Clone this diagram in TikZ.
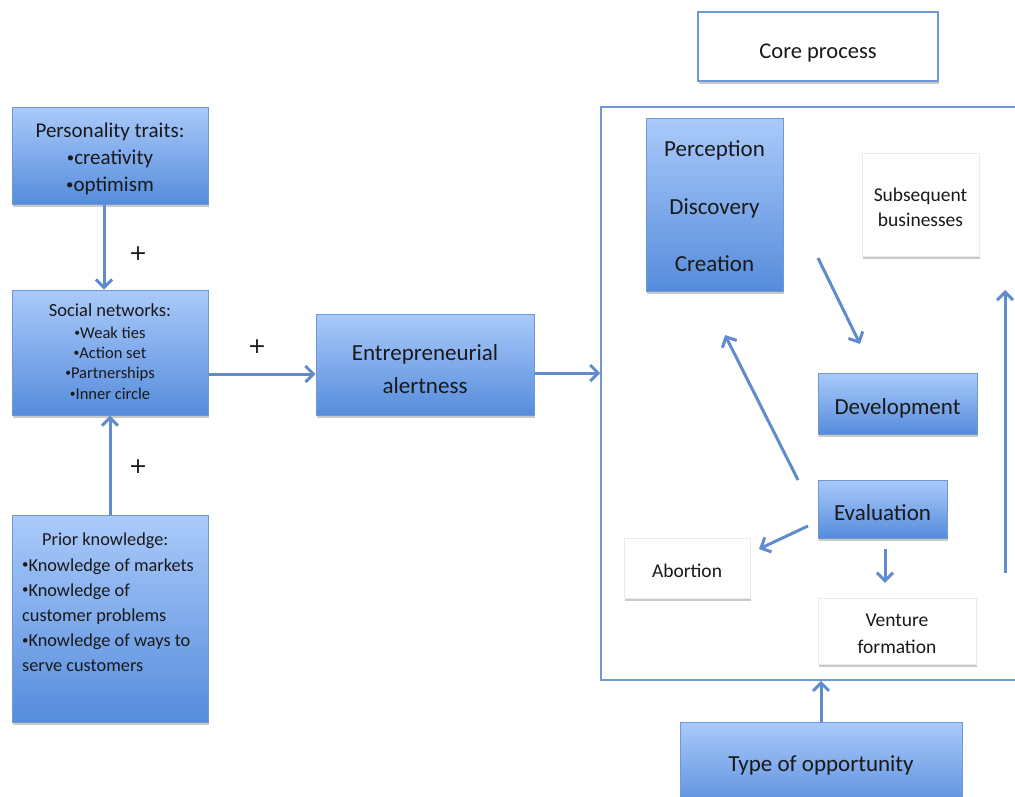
\documentclass[tikz,border=0pt]{standalone}
\usepackage{fontspec}
\usepackage{graphicx}
\setmainfont{Carlito}
\newfontfamily\plusfont{DejaVu Sans}
\usetikzlibrary{arrows.meta,shadows}
\definecolor{gtop}{RGB}{170,202,250}
\definecolor{gbot}{RGB}{86,140,220}
\definecolor{bord}{RGB}{112,152,212}
\definecolor{arr}{RGB}{96,140,206}
\newcommand\bul{\raisebox{0.12em}{\scalebox{0.7}{•}}}
\tikzset{
  x=1pt, y=-1pt,
  shad/.style={drop shadow={shadow xshift=1pt,shadow yshift=-3pt,opacity=0.35,fill=black!60}},
  bluebox/.style={draw=bord, line width=1pt, top color=gtop, bottom color=gbot, shad, inner sep=0pt},
  whitebox/.style={draw=black!8, line width=0.5pt, fill=white, shad, inner sep=0pt},
  txt/.style={inner sep=0pt, align=center, text=black!90},
  conn/.style={draw=arr, line width=3pt, -{Straight Barb[length=8pt,width=16pt]}},
  plus/.style={font=\plusfont\fontsize{22}{24}\selectfont, text=black!90}
}
\begin{document}
\begin{tikzpicture}
\useasboundingbox (0,0) rectangle (1015,796);
\clip (0,0) rectangle (1015,796);
\fill[white] (0,0) rectangle (1015,796);

% core frame
\node[draw=bord, line width=1.5pt, fill=white, minimum width=430pt, minimum height=573pt, inner sep=0pt] (core) at (816,393.5) {};

% left boxes
\node[bluebox, minimum width=196pt, minimum height=97pt] (pt) at (110,155.5) {};
\node[txt, font=\fontsize{21}{27}\selectfont] (ptt) at (110,159)
  {Personality traits:\\ \bul creativity\\ \bul optimism};
\node[bluebox, minimum width=196pt, minimum height=125pt] (sn) at (110,352.5) {};
\node[txt, font=\fontsize{18.5}{22}\selectfont] (snt) at (110,310) {Social networks:};
\node[txt, font=\fontsize{16.5}{20.3}\selectfont] (sni) at (110,363)
  {\bul Weak ties\\ \bul Action set\\ \bul Partnerships\\ \bul Inner circle};
\node[bluebox, minimum width=196pt, minimum height=207pt] (pk) at (110,618.5) {};
\node[anchor=north west, inner sep=0pt, align=left, font=\fontsize{18.3}{25.1}\selectfont, text=black!90] (pkt) at (22,533)
  {\hspace*{20pt}Prior knowledge:\\ \bul Knowledge of markets\\ \bul Knowledge of\\ customer problems\\ \bul Knowledge of ways to\\ serve customers};

\node[bluebox, minimum width=218pt, minimum height=101pt] (ea) at (425,364.5) {};
\node[txt, font=\fontsize{23}{33}\selectfont] (eat) at (425,369) {Entrepreneurial\\ alertness};

\node[draw=bord, line width=1.2pt, fill=white, shad, minimum width=240pt, minimum height=69pt, inner sep=0pt] (cp) at (818,46.5) {};
\node[txt, font=\fontsize{22.5}{25}\selectfont] (cpt) at (818,53) {Core process};

% inner boxes
\node[bluebox, minimum width=137pt, minimum height=173pt] (pdc) at (714.5,204.5) {};
\node[txt, font=\fontsize{23}{57.5}\selectfont] (pdct) at (714.5,206.5) {Perception\\ Discovery\\ Creation};
\node[whitebox, minimum width=117pt, minimum height=103pt] (sb) at (920.5,204.5) {};
\node[txt, font=\fontsize{19.5}{25}\selectfont] (sbt) at (920.5,207) {Subsequent\\ businesses};
\node[bluebox, minimum width=159pt, minimum height=61pt] (dev) at (897.5,403.5) {};
\node[txt, font=\fontsize{23}{26}\selectfont] (devt) at (897.5,408) {Development};
\node[bluebox, minimum width=129pt, minimum height=58pt] (ev) at (882.5,509) {};
\node[txt, font=\fontsize{23}{26}\selectfont] (evt) at (882.5,513) {Evaluation};
\node[whitebox, minimum width=126pt, minimum height=60pt] (ab) at (687,568) {};
\node[txt, font=\fontsize{19.5}{22}\selectfont] (abt) at (687,571) {Abortion};
\node[whitebox, minimum width=158pt, minimum height=66pt] (vf) at (897,631) {};
\node[txt, font=\fontsize{19.5}{27}\selectfont] (vft) at (897,634) {Venture\\ formation};

\node[bluebox, minimum width=282pt, minimum height=90pt] (to) at (821,767) {};
\node[txt, font=\fontsize{23}{27}\selectfont] (tot) at (821,765) {Type of opportunity};

% free arrow ends
\coordinate (a1s) at (818,258); \coordinate (a1e) at (860,344);
\coordinate (a2s) at (798,480); \coordinate (a2e) at (725,335);
\coordinate (a3s) at (808,526); \coordinate (a3e) at (759,549);
\coordinate (a4s) at (1005,573); \coordinate (a4e) at (1005,290);

% connectors
\draw[conn] ([xshift=-6pt]pt.south) -- ([xshift=-6pt]sn.north);
\draw[conn] (pk.north) -- (sn.south);
\draw[conn] ([yshift=-21.5pt]sn.east) -- ([yshift=-21.5pt]sn.east -| ea.west);
\draw[conn] ([yshift=-8.5pt]ea.east) -- ([yshift=-8.5pt]ea.east -| core.west);
\draw[conn] (a1s) -- (a1e);
\draw[conn] (a2s) -- (a2e);
\draw[conn] (a3s) -- (a3e);
\draw[conn, shorten <=10pt, shorten >=15pt] ([xshift=2.5pt]ev.south) -- ([xshift=2.5pt]ev.south |- vf.north);
\draw[conn] (a4s) -- (a4e);
\draw[conn] (to.north) -- (to.north |- core.south);

\node[plus] (p1) at (138,254) {+};
\node[plus] (p2) at (138,467) {+};
\node[plus] (p3) at (257,347) {+};
\end{tikzpicture}
\end{document}
